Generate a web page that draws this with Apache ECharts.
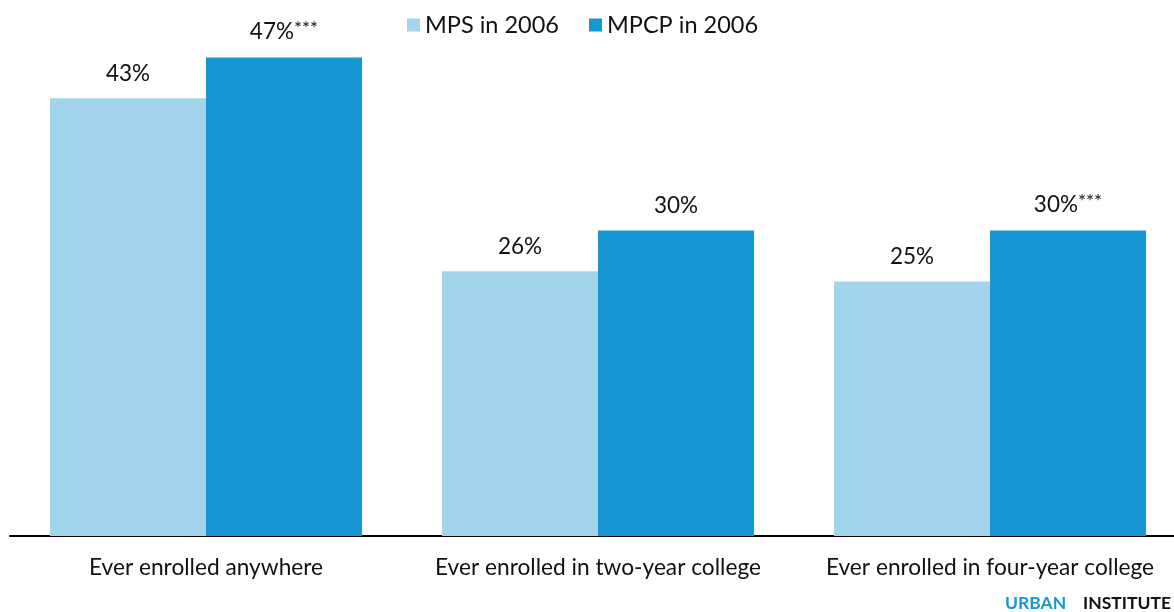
<!DOCTYPE html>
<html><head><meta charset="utf-8">
<script src="https://cdn.jsdelivr.net/npm/echarts@6/dist/echarts.min.js"></script>
<style>html,body{margin:0;padding:0;background:#fff;overflow:hidden}#c{width:1186px;height:612px}</style>
</head><body><div id="c"></div>
<script>
const categories = ['Ever enrolled anywhere', 'Ever enrolled in two-year college', 'Ever enrolled in four-year college'];
const seriesNames = ['MPS in 2006', 'MPCP in 2006'];
const mpsValues = [43, 26, 25];
const mpcpValues = [47, 30, 30];
const mpsStars = ['', '', ''];
const mpcpStars = ['***', '', '***'];

const chart = echarts.init(document.getElementById('c'), null, {renderer: 'canvas'});
const font = 'Lato, "Noto Sans", sans-serif';
function labelFor(stars) {
  return {
    show: true, position: 'top', distance: 13,
    formatter: p => '{v|' + p.value + '%}' + (stars[p.dataIndex] ? '{s|' + stars[p.dataIndex] + '}' : ''),
    rich: {
      v: {fontSize: 22.5, fontFamily: font, color: '#111'},
      s: {fontSize: 19, fontFamily: font, color: '#111', verticalAlign: 'top', padding: [0, 0, 6, 0]}
    }
  };
}
chart.setOption({
  animation: false,
  textStyle: {fontFamily: font},
  legend: {
    top: 8, left: 402, itemWidth: 13, itemHeight: 13, itemGap: 30,
    icon: 'rect',
    textStyle: {fontSize: 23.5, fontFamily: font, color: '#111'},
    data: seriesNames
  },
  grid: {left: 10, right: 0, top: 27, bottom: 76, containLabel: false},
  xAxis: {
    type: 'category', data: categories,
    axisLine: {lineStyle: {color: '#000', width: 2}},
    axisTick: {show: false},
    axisLabel: {fontSize: 22.7, fontFamily: font, color: '#111', margin: 20, interval: 0}
  },
  yAxis: {type: 'value', min: 0, max: 50, show: false, splitLine: {show: false}},
  series: [
    {name: seriesNames[0], type: 'bar', data: mpsValues, barGap: '0%', barCategoryGap: '20.4%',
     itemStyle: {color: '#a2d4ec'}, label: labelFor(mpsStars)},
    {name: seriesNames[1], type: 'bar', data: mpcpValues, barGap: '0%', barCategoryGap: '20.4%',
     itemStyle: {color: '#1696d2'}, label: labelFor(mpcpStars)}
  ],
  graphic: [
    {type: 'text', left: 1005, top: 594,
     style: {text: 'URBAN', font: 'bold 17.5px ' + font, fill: '#1696d2'}},
    {type: 'text', left: 1083, top: 594,
     style: {text: 'INSTITUTE', font: 'bold 17.5px ' + font, fill: '#111'}}
  ]
});
</script></body></html>
